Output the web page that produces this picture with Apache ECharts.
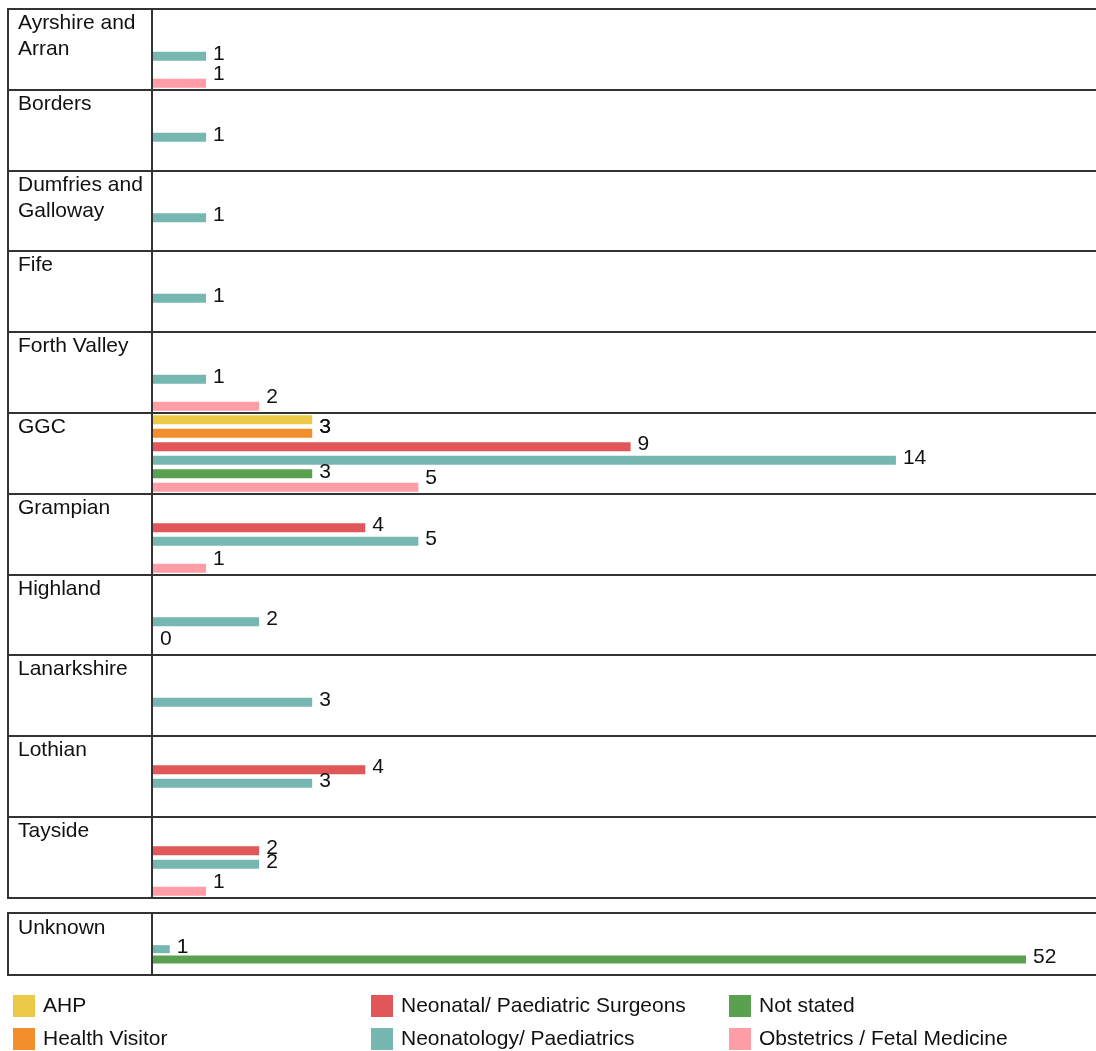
<!DOCTYPE html>
<html>
<head>
<meta charset="utf-8">
<script src="https://cdn.jsdelivr.net/npm/echarts@6/dist/echarts.min.js"></script>
<style>
  html, body { margin: 0; padding: 0; background: #fff; }
  #chart { width: 1096px; height: 1051px; }
</style>
</head>
<body>
<div id="chart"></div>
<script>
// health boards (one panel each) and staff groups (one bar slot each)
const boards = ['Ayrshire and Arran', 'Borders', 'Dumfries and Galloway', 'Fife', 'Forth Valley', 'GGC',
  'Grampian', 'Highland', 'Lanarkshire', 'Lothian', 'Tayside', 'Unknown'];
const roles = ['AHP', 'Health Visitor', 'Neonatal/ Paediatric Surgeons', 'Neonatology/ Paediatrics',
  'Not stated', 'Obstetrics / Fetal Medicine'];

// counts per board, same order as boards
const ahp           = [null, null, null, null, null, 3, null, null, null, null, null, null];
const healthVisitor = [null, null, null, null, null, 3, null, null, null, null, null, null];
const surgeons      = [null, null, null, null, null, 9, 4, null, null, 4, 2, null];
const neonatology   = [1, 1, 1, 1, 1, 14, 5, 2, 3, 3, 2, 1];
const notStated     = [null, null, null, null, null, 3, null, null, null, null, null, 52];
const obstetrics    = [1, null, null, null, 2, 5, 1, 0, null, null, 1, null];

const values = [ahp, healthVisitor, surgeons, neonatology, notStated, obstetrics];
const colors = ['#EDC948', '#F28E2B', '#E15759', '#76B7B2', '#59A14F', '#FF9DA7'];
const labelShift = [7, -6, -3, -2, -2, -9];
const font = '"Liberation Sans", Arial, sans-serif';

const chart = echarts.init(document.getElementById('chart'));

// panel frames: 11 boards stacked, then Unknown on its own
const tops = [], bottoms = [];
for (let i = 0; i < 11; i++) {
  tops.push(Math.round(9 + i * 80.8));
  bottoms.push(Math.round(9 + (i + 1) * 80.8));
}
tops.push(913);
bottoms.push(975);

const grids = [], xAxes = [], yAxes = [], series = [], graphics = [];

boards.forEach((board, g) => {
  const isUnknown = g === boards.length - 1;
  grids.push({ left: 153, right: 0, top: tops[g], height: bottoms[g] - tops[g] });
  xAxes.push({ type: 'value', gridIndex: g, min: 0, max: isUnknown ? 56.17 : 17.77, show: false });
  yAxes.push({ type: 'category', gridIndex: g, data: roles, inverse: true, show: false });

  roles.forEach((role, c) => {
    const v = values[c][g];
    series.push({
      type: 'bar',
      name: role,
      xAxisIndex: g,
      yAxisIndex: g,
      stack: 'p' + g,
      barWidth: isUnknown ? 8 : 9,
      itemStyle: { color: colors[c] },
      label: {
        show: true,
        position: 'right',
        distance: 7,
        offset: [0, labelShift[c]],
        color: '#111',
        fontSize: 21,
        fontFamily: font
      },
      data: v === null ? [] : [[v, c]]
    });
  });

  // frame around the whole panel and the divider of the name column
  graphics.push({
    type: 'rect',
    shape: { x: 8, y: tops[g], width: 1100, height: bottoms[g] - tops[g] },
    style: { fill: 'none', stroke: '#333', lineWidth: 2 },
    silent: true
  });
  graphics.push({
    type: 'line',
    shape: { x1: 152, y1: tops[g], x2: 152, y2: bottoms[g] },
    style: { stroke: '#333', lineWidth: 2 },
    silent: true
  });
  graphics.push({
    type: 'text',
    x: 18,
    y: tops[g] + (isUnknown ? 2 : 1),
    style: {
      text: board.replace(' and ', ' and\n'),
      font: '21px ' + font,
      lineHeight: 26,
      fill: '#111',
      verticalAlign: 'top'
    },
    silent: true
  });
});

const legendBase = {
  orient: 'vertical',
  top: 995,
  padding: 0,
  itemWidth: 22,
  itemHeight: 22,
  itemGap: 11,
  icon: 'rect',
  textStyle: { fontSize: 21, color: '#111', fontFamily: font, padding: [0, 0, 0, 3] }
};

const option = {
  animation: false,
  grid: grids,
  xAxis: xAxes,
  yAxis: yAxes,
  series: series,
  graphic: graphics,
  legend: [
    Object.assign({}, legendBase, { left: 13, data: [roles[0], roles[1]] }),
    Object.assign({}, legendBase, { left: 371, data: [roles[2], roles[3]] }),
    Object.assign({}, legendBase, { left: 729, data: [roles[4], roles[5]] })
  ]
};

chart.setOption(option);
window.addEventListener('resize', () => chart.resize());
</script>
</body>
</html>
